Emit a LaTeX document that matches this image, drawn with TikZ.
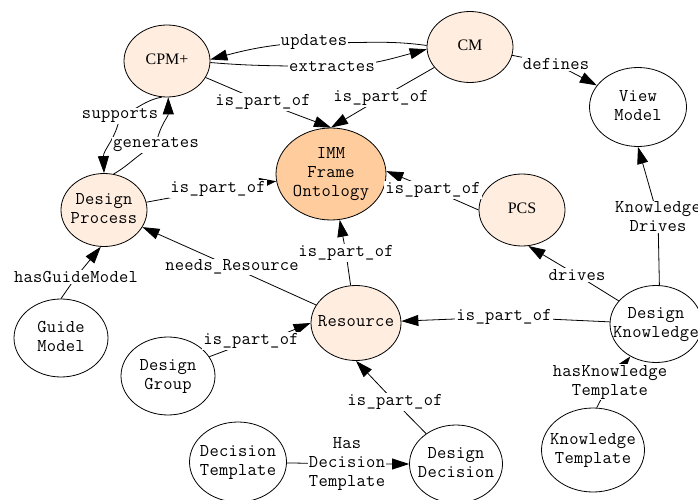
\documentclass[tikz,border=0pt]{standalone}
\usepackage{fontspec}
\newfontfamily\monofam[LetterSpace=1.5]{Latin Modern Mono}
\newfontfamily\seriffam{Liberation Serif}
\usetikzlibrary{arrows.meta,shapes.geometric,backgrounds}
\definecolor{lightfill}{HTML}{FFEEE0}
\definecolor{immfill}{HTML}{FFCC9E}
% centred multi-line text of zero width, so the ellipse size is set by hand
\newcommand{\ctext}[1]{\makebox[0pt]{\begin{tabular}{@{}c@{}}#1\end{tabular}}}

\begin{document}
\begin{tikzpicture}[x=1pt,y=1pt,
  ent/.style={ellipse,draw,line width=0.8pt,inner sep=0pt,
    font=\monofam\fontsize{18}{19}\selectfont},
  entlight/.style={ent,fill=lightfill},
  serifent/.style={entlight,font=\seriffam\fontsize{16}{19}\selectfont},
  rel/.style={fill=white,inner sep=1pt,align=center,
    font=\monofam\fontsize{18}{19}\selectfont},
  arr/.style={line width=0.8pt,-{Triangle[length=17pt,width=11pt]}}]
\useasboundingbox (0,0) rectangle (698,-500);

% concepts
\node[serifent,minimum width=86pt,minimum height=72pt] (cpm) at (167,-61) {\ctext{CPM+}};
\node[serifent,minimum width=86pt,minimum height=71pt] (cm) at (470,-47) {\ctext{CM}};
\node[ent,minimum width=97pt,minimum height=79pt] (view) at (638,-107) {\ctext{View\\Model}};
\node[ent,fill=immfill,minimum width=110pt,minimum height=92pt] (imm) at (331,-174) {\ctext{IMM\\Frame\\Ontology}};
\node[entlight,minimum width=86pt,minimum height=73pt] (dp) at (104,-210) {\ctext{Design\\Process}};
\node[serifent,minimum width=86pt,minimum height=72pt] (pcs) at (522,-210) {\ctext{PCS}};
\node[entlight,minimum width=90pt,minimum height=75pt] (res) at (356,-323) {\ctext{Resource}};
\node[ent,minimum width=92pt,minimum height=77pt] (dk) at (656,-324) {\ctext{Design\\Knowledge}};
\node[ent,minimum width=94pt,minimum height=78pt] (gm) at (61,-338) {\ctext{Guide\\Model}};
\node[ent,minimum width=94pt,minimum height=78pt] (dg) at (168,-376) {\ctext{Design\\Group}};
\node[ent,minimum width=97pt,minimum height=80pt] (dt) at (238,-462) {\ctext{Decision\\Template}};
\node[ent,minimum width=93pt,minimum height=78pt] (dd) at (456,-464) {\ctext{Design\\Decision}};
\node[ent,minimum width=103pt,minimum height=84pt] (kt) at (593,-450) {\ctext{Knowledge\\Template}};

% relation labels
\node[rel] (lupd) at (314,-42) {updates};
\node[rel] (lext) at (332,-67) {extractes};
\node[rel] (lcpm) at (263,-102) {is\_part\_of};
\node[rel] (lcm) at (381,-98) {is\_part\_of};
\node[rel] (ldef) at (556,-64) {defines};
\node[rel] (lsup) at (120,-116) {supports};
\node[rel] (lgen) at (156,-145) {generates};
\node[rel] (ldp) at (218,-189) {is\_part\_of};
\node[rel] (lpcs) at (433,-190) {is\_part\_of};
\node[rel] (lneeds) at (232,-267) {needs\_Resource};
\node[rel] (lres) at (346,-253) {is\_part\_of};
\node[rel] (lgm) at (76,-277) {hasGuideModel};
\node[rel] (ldg) at (251,-341) {is\_part\_of};
\node[rel] (ldk) at (504,-317) {is\_part\_of};
\node[rel] (ldrv) at (577,-275) {drives};
\node[rel] (lkd) at (658,-217) {Knowledge\\Drives};
\node[rel] (lhkt) at (610,-382) {hasKnowledge\\Template};
\node[rel] (ldd) at (395,-402) {is\_part\_of};
\node[rel] (lhdt) at (347,-464) {Has\\Decision\\Template};

% relations, drawn underneath the labels
\begin{pgfonlayer}{background}
\draw[arr] (cm.178) to[out=172,in=-3] (lupd.center) to[out=183,in=15] (cpm.2);
\draw[arr] (cpm.-2) to[out=-5,in=178] (lext.center) to[out=2,in=195] (cm.183);
\draw[arr] (cpm) -- (lcpm.center) -- (imm.north);
\draw[arr] (cm) -- (lcm.center) -- (imm.north);
\draw[arr] (cm) -- (ldef.center) -- (view);
\draw[arr] (cpm.262) to[out=190,in=20] (lsup.center) to[out=-100,in=92] (dp.north);
\draw[arr] (dp.75) to[out=30,in=205] (lgen.center) to[out=80,in=-90] (cpm.272);
\draw[arr] (dp) -- (ldp.center) -- (imm);
\draw[arr] (pcs.west) -- (lpcs.center) -- (imm.3);
\draw[arr] (res) -- (lneeds.center) -- (dp);
\draw[arr] (res) -- (lres.center) -- (imm);
\draw[arr] (gm.north) -- (lgm.center) -- (dp.-95);
\draw[arr] (dg.25) -- (ldg.center) ([xshift=-12pt]ldg.north east) -- (res.west);
\draw[arr] (dk) -- (ldk.center) -- (res);
\draw[arr] (dk) -- (ldrv.center) -- (pcs.-80);
\draw[arr] (dk.85) -- (lkd.center) -- (view.south);
\draw[arr] (kt.85) -- (lhkt.center) -- (dk);
\draw[arr] (dd) -- (ldd.center) -- (res.south);
\draw[arr] (dt) -- (lhdt.center) -- (dd);
\end{pgfonlayer}
\end{tikzpicture}
\end{document}
